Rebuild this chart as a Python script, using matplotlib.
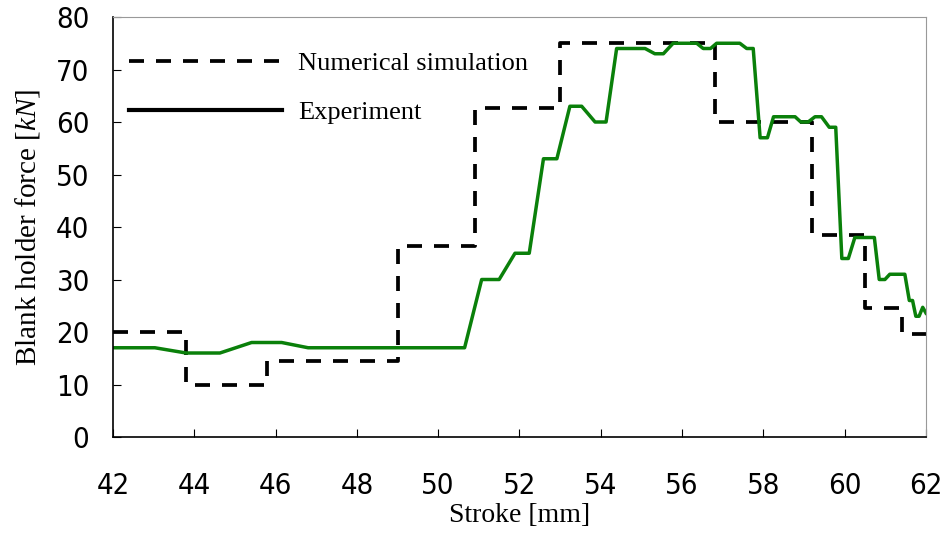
import matplotlib.pyplot as plt

plt.rcParams['mathtext.fontset'] = 'custom'
plt.rcParams['mathtext.rm'] = 'Liberation Serif'
plt.rcParams['mathtext.it'] = 'Liberation Serif:italic'

# numerical simulation (step profile)
sim_x = [42.0, 43.8, 43.8, 45.8, 45.8, 49.0, 49.0, 50.9, 50.9, 53.0, 53.0,
         56.8, 56.8, 59.2, 59.2, 60.5, 60.5, 61.4, 61.4, 62.0]
sim_y = [20, 20, 10, 10, 14.5, 14.5, 36.3, 36.3, 62.7, 62.7, 75,
         75, 60, 60, 38.4, 38.4, 24.5, 24.5, 19.6, 19.6]

# experiment
exp_x = [42.0, 43.03, 43.8, 44.63, 45.41, 46.15, 46.8, 50.65, 51.07, 51.5,
         51.89, 52.24, 52.59, 52.92, 53.24, 53.53, 53.86, 54.13, 54.39, 55.09,
         55.33, 55.54, 55.78, 56.36, 56.52, 56.7, 56.85, 57.42, 57.59, 57.75,
         57.92, 58.1, 58.25, 58.78, 58.92, 59.1, 59.27, 59.43, 59.62, 59.78,
         59.93, 60.09, 60.25, 60.73, 60.85, 60.99, 61.11, 61.48, 61.59, 61.67,
         61.75, 61.83, 61.92, 62.0]
exp_y = [17, 17, 16, 16, 18, 18, 17, 17, 30, 30,
         35, 35, 53, 53, 63, 63, 60, 60, 74, 74,
         73, 73, 75, 75, 74, 74, 75, 75, 74, 74,
         57, 57, 61, 61, 60, 60, 61, 61, 59, 59,
         34, 34, 38, 38, 30, 30, 31, 31, 26, 26,
         23, 23, 24.7, 23.6]

xticks = list(range(42, 63, 2))
yticks = list(range(0, 81, 10))

fig = plt.figure(figsize=(9.47, 5.33), dpi=100)
ax = fig.add_axes([0.1193, 0.1801, 0.8585, 0.788])

ax.plot(sim_x, sim_y, color='black', lw=2.7, dashes=(4, 3.2),
        label='Numerical simulation')
ax.plot(exp_x, exp_y, color='#0a800a', lw=2.5, label='Experiment')

ax.set_xlim(42, 62)
ax.set_ylim(0, 80)
ax.set_xticks(xticks)
ax.set_yticks(yticks)

for lab in ax.get_xticklabels() + ax.get_yticklabels():
    lab.set_family('DejaVu Sans')
    lab.set_stretch('condensed')
    lab.set_fontsize(21)
ax.tick_params(axis='x', direction='in', length=6, pad=25, color='black')
ax.tick_params(axis='y', direction='in', length=6, pad=17, color='black')

for s in ['top', 'right']:
    ax.spines[s].set_color('#999999')
for s in ['left', 'bottom']:
    ax.spines[s].set_color('black')
    ax.spines[s].set_linewidth(1.2)

ax.set_xlabel('Stroke [mm]', family='Liberation Serif', fontsize=20, labelpad=2)
ax.set_ylabel('Blank holder force [$\\it{kN}$]', family='Liberation Serif',
              fontsize=21, labelpad=10)

# legend with black solid handle for experiment
leg = ax.legend(loc='upper left', bbox_to_anchor=(0.0, 0.955), frameon=False,
                prop={'family': 'Liberation Serif', 'size': 19},
                handlelength=5.8, handletextpad=0.62, labelspacing=0.95,
                borderaxespad=0.2)
leg.get_lines()[1].set_color('black')
leg.get_lines()[1].set_linewidth(3)

fig.savefig('out.png', dpi=100)
